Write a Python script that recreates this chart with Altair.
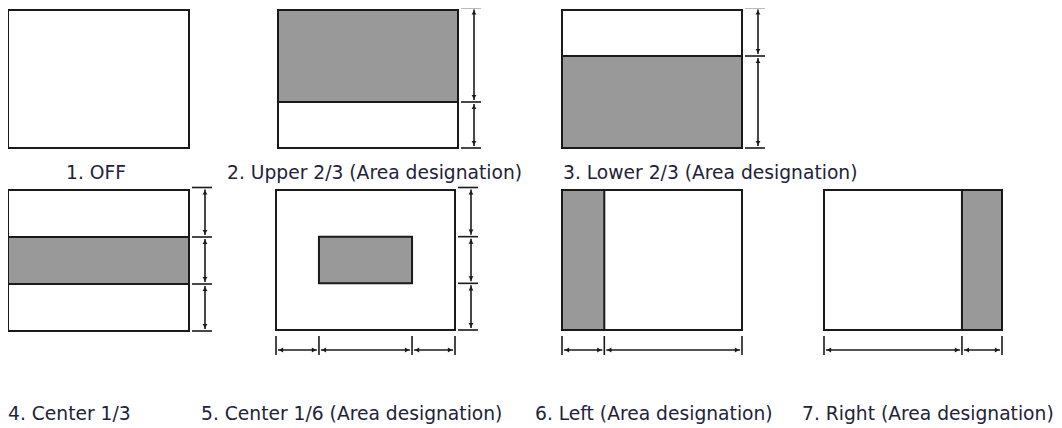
import altair as alt
import pandas as pd

# ---- content / values ----
labels = ["1. OFF", "2. Upper 2/3 (Area designation)", "3. Lower 2/3 (Area designation)",
          "4. Center 1/3", "5. Center 1/6 (Area designation)", "6. Left (Area designation)",
          "7. Right (Area designation)"]
# shaded area as fractions of each frame (None = no shaded area)
shade_x0 = [None, 0.0, 0.0, 0.0, 0.24, 0.0, 0.775]
shade_x1 = [None, 1.0, 1.0, 1.0, 0.76, 0.235, 1.0]
shade_y0 = [None, 0.0, 1/3, 1/3, 1/3, 0.0, 0.0]
shade_y1 = [None, 2/3, 1.0, 2/3, 2/3, 1.0, 1.0]
# dimension marks (fractions of frame height / width)
v_dims = [[], [0, 2/3, 1], [0, 1/3, 1], [0, 1/3, 2/3, 1], [0, 1/3, 2/3, 1], [], []]
h_dims = [[], [], [], [], [0, 0.24, 0.76, 1], [0, 0.235, 1], [0, 0.775, 1]]

# ---- layout (pixels) ----
left = [8, 278, 562, 8, 276, 562, 824]
top = [10, 10, 10, 190, 190, 190, 190]
bw = [181, 180, 180, 181, 179, 180, 178]
bh = [138, 138, 138, 141, 140, 140, 140]
label_x = [66, 227, 563, 8, 201, 535, 802]
label_y = [179, 179, 179, 420, 420, 420, 420]

rects, rules, arrows, texts = [], [], [], []
for i in range(len(labels)):
    L, T, W, H = left[i], top[i], bw[i], bh[i]
    rects.append(dict(x=L, x2=L + W, y=T, y2=T + H, fill="#ffffff", o=0))
    if shade_x0[i] is not None:
        rects.append(dict(x=L + shade_x0[i] * W, x2=L + shade_x1[i] * W,
                          y=T + shade_y0[i] * H, y2=T + shade_y1[i] * H, fill="#999999", o=1))
    texts.append(dict(x=label_x[i], y=label_y[i], t=labels[i]))
    R, B = L + W, T + H
    vs = [T + f * H for f in v_dims[i]]
    for k, yy in enumerate(vs):
        ty = yy - 2.5 if k == 0 else yy
        rules.append(dict(x=R + 3, x2=R + 23, y=ty, y2=ty))
    for a, b in zip(vs[:-1], vs[1:]):
        a2 = a - 2.5 if a == vs[0] else a
        rules.append(dict(x=R + 16, x2=R + 16, y=a2 + 2, y2=b - 2))
        arrows.append(dict(x=R + 16, y=a2 + 5, s="triangle-up"))
        arrows.append(dict(x=R + 16, y=b - 5, s="triangle-down"))
    hs = [L + f * W for f in h_dims[i]]
    for xx in hs:
        rules.append(dict(x=xx, x2=xx, y=B + 6, y2=B + 25))
    for a, b in zip(hs[:-1], hs[1:]):
        rules.append(dict(x=a + 2, x2=b - 2, y=B + 20, y2=B + 20))
        arrows.append(dict(x=a + 5, y=B + 20, s="triangle-left"))
        arrows.append(dict(x=b - 5, y=B + 20, s="triangle-right"))

xs = alt.Scale(domain=[8, 1054], nice=False, zero=False)
ys = alt.Scale(domain=[8, 428], nice=False, zero=False, reverse=True)

rect_layer = alt.Chart(pd.DataFrame(rects)).mark_rect(stroke="#1a1a1a", strokeWidth=2).encode(
    x=alt.X("x:Q", scale=xs, axis=None), x2="x2:Q",
    y=alt.Y("y:Q", scale=ys, axis=None), y2="y2:Q",
    fill=alt.Fill("fill:N", scale=None),
    order="o:Q",
)
rule_layer = alt.Chart(pd.DataFrame(rules)).mark_rule(color="#1a1a1a", strokeWidth=1.6).encode(
    x=alt.X("x:Q", scale=xs, axis=None), x2="x2:Q",
    y=alt.Y("y:Q", scale=ys, axis=None), y2="y2:Q",
)
arrow_layer = alt.Chart(pd.DataFrame(arrows)).mark_point(filled=True, size=24, color="#1a1a1a", opacity=1).encode(
    x=alt.X("x:Q", scale=xs, axis=None),
    y=alt.Y("y:Q", scale=ys, axis=None),
    shape=alt.Shape("s:N", scale=None),
)
text_layer = alt.Chart(pd.DataFrame(texts)).mark_text(
    align="left", baseline="alphabetic", font="DejaVu Sans", fontSize=18.7, color="#22223a"
).encode(
    x=alt.X("x:Q", scale=xs, axis=None),
    y=alt.Y("y:Q", scale=ys, axis=None),
    text="t:N",
)

chart = alt.layer(rect_layer, rule_layer, arrow_layer, text_layer).properties(
    width=1046, height=420, autosize=alt.AutoSizeParams(type="none"), padding=0,
    background="#ffffff",
).configure_view(stroke=None)

chart.save("out.html", embed_options={"renderer": "svg", "actions": False})
